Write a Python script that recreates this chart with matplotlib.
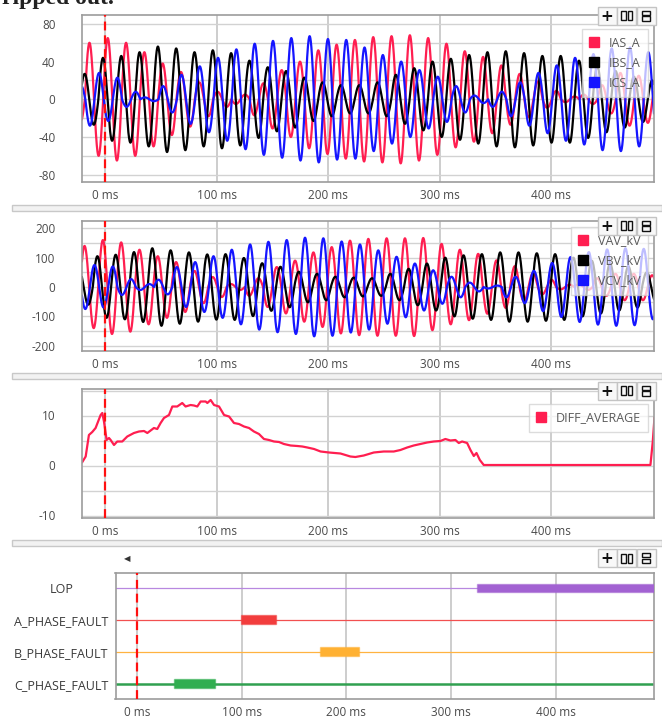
import numpy as np
import matplotlib
matplotlib.use("Agg")
import matplotlib.pyplot as plt
from matplotlib.lines import Line2D
from matplotlib.patches import Rectangle

plt.rcParams['font.family'] = ['Open Sans', 'DejaVu Sans']

W, H = 662, 720
T = 16.42  # ms per power cycle

# Waveforms: one signed peak amplitude per cycle.
# *_first is the time (ms) of the first listed peak.
ias_first = -30.74
ias_amp = [25, 60, 65, 60, 50, 38, 29, 18, 8, -5, -17, -31, -40, -52, -58, -63,
           -66, -67, -68, -65, -59, -51, -45, -36, -27, -19, -9, -3, 5, 15, 28, 25, 15]
ibs_first = -35.04
ibs_amp = [5, 27, 44, 46, 50, 56, 54, 50, 52, 49, 41, 34, 30, 23, 18, 15, 15,
           18, 26, 33, 40, 43, 47, 50, 51, 49, 46, 46, 41, 35, 30, 24, 20]
ics_first = -30.32
ics_amp = [-15, -28, -23, -8, 2, 14, 26, 35, 44, 53, 59, 62, 65, 67, 64, 63, 55,
           47, 40, 31, 24, 14, 4, -8, -18, -28, -36, -44, -48, -54, -55, -50, -40]

vav_first = -18.72
vav_amp = [140, 160, 152, 127, 105, 85, 55, 34, 10, -30, -68, -90, -118, -136, -158, -164,
           -166, -166, -167, -147, -127, -113, -91, -71, -48, -25, -8, 10, 30, 45, 45, 40]
vbv_first = -23.62
vbv_amp = [60, 105, 110, 119, 132, 125, 118, 111, 112, 99, 81, 69, 52, 45, 35, 32,
           30, 45, 62, 80, 100, 108, 112, 118, 118, 115, 112, 100, 90, 80, 70, 50]
vcv_first = -18.02
vcv_amp = [-75, -70, -27, -10, 25, 68, 85, 105, 127, 145, 154, 160, 168, 166, 155, 145,
           125, 103, 80, 57, 35, 15, -5, -35, -55, -82, -102, -119, -128, -132, -130, -110]

diff_t = [-20.7, -17.7, -14.8, -11.8, -8.8, -4.3, -2.8, -1.3, 1.1, 3.2,
          4.7, 7.7, 10.6, 15.1, 19.6, 25.6, 30.1, 34.6, 37.6, 43.5,
          46.5, 49.5, 52.5, 57.0, 60.0, 64.4, 68.9, 71.9, 76.4, 79.4,
          82.4, 85.4, 89.9, 91.4, 94.4, 97.4, 101.9, 106.4, 110.9, 115.3,
          119.8, 124.3, 128.8, 133.2, 137.7, 142.2, 146.7, 151.2, 155.7, 160.1,
          166.1, 172.1, 176.6, 181.1, 187.1, 193.0, 200.5, 210.8, 219.7, 224.2,
          231.7, 240.7, 249.6, 258.6, 264.6, 270.6, 276.5, 282.5, 288.5, 294.5,
          300.4, 304.9, 309.4, 313.9, 316.9, 319.9, 324.4, 327.4, 330.4, 332.8,
          335.8, 339.3, 488.8, 490.9, 492.4]
diff_v = [0.7, 1.8, 6.1, 6.7, 7.5, 10.1, 10.5, 8.8, 5.1, 5.5,
          5.1, 4.1, 4.8, 4.8, 5.8, 6.5, 6.8, 6.9, 6.5, 7.5,
          7.3, 8.5, 9.5, 10.1, 11.8, 11.8, 12.5, 11.8, 12.1, 12.0,
          11.8, 12.8, 12.8, 12.5, 13.1, 12.1, 11.8, 10.1, 9.8, 8.5,
          8.3, 7.8, 7.5, 6.8, 6.3, 5.3, 5.1, 4.8, 4.7, 4.3,
          4.0, 3.9, 3.8, 3.6, 3.3, 2.8, 2.6, 2.4, 1.8, 1.7,
          2.0, 2.6, 2.8, 2.8, 3.1, 3.6, 4.0, 4.3, 4.6, 4.8,
          4.9, 5.3, 5.0, 5.1, 4.5, 4.8, 4.5, 3.1, 1.9, 2.5,
          1.1, 0.1, 0.1, 4.8, 9.5]

event_names = ['LOP', 'A_PHASE_FAULT', 'B_PHASE_FAULT', 'C_PHASE_FAULT']
event_start = [324.5, 99.0, 175.0, 35.5]
event_end = [494.0, 132.7, 211.7, 74.6]
event_colors = ['#a262d2', '#f23d3d', '#ffb133', '#30ae50']
event_lines = ['#b888e0', '#f25050', '#ffb340', '#30a050']

xticks = [0, 100, 200, 300, 400]
RED, BLACK, BLUE = '#ff1e50', '#000000', '#1515ff'


def wave(t, first, amps):
    # each cycle runs zero-crossing to zero-crossing: peak +a then trough -a
    ph = (t - first) / T
    k = np.clip(np.floor(ph + 0.25).astype(int), 0, len(amps) - 1)
    return np.asarray(amps, float)[k] * np.cos(2 * np.pi * ph)


def fbox(l, t, r, b):
    return [l / W, 1 - b / H, (r - l) / W, (b - t) / H]


def style(ax, xlim):
    ax.set_xlim(*xlim)
    ax.set_xticks(xticks, labels=[f'{v} ms' for v in xticks])
    for s in ax.spines.values():
        s.set_color('#9c9c9c')
        s.set_linewidth(1.2)
    ax.tick_params(length=0, labelsize=8.5, labelcolor='#4a4a4a')
    ax.tick_params(axis='x', pad=5)
    ax.tick_params(axis='y', pad=19)
    ax.grid(axis='x', color='#cdcdcd', lw=1.4)
    ax.set_axisbelow(True)
    ax.axvline(0, color='#ff1010', lw=1.6, dashes=(4, 2.2), zorder=4)


def yaxis(ax, ylim, major, minor):
    ax.set_ylim(*ylim)
    ax.set_yticks(major, labels=[str(v) for v in major])
    ax.set_yticks(minor, minor=True)
    ax.tick_params(which='minor', length=0)
    ax.grid(axis='y', which='both', color='#d2d2d2', lw=1)


def legend(ax, colors, labels, anchor):
    hs = [Line2D([], [], marker='s', ls='none', color=c, markersize=6.5) for c in colors]
    leg = ax.legend(hs, labels, loc='upper right', bbox_to_anchor=anchor, frameon=True,
                    fancybox=False, framealpha=0.72, edgecolor='#cfcfcf', fontsize=9,
                    handlelength=0.7, handletextpad=0.8, borderpad=0.6,
                    labelspacing=0.55, borderaxespad=0)
    leg.get_frame().set_linewidth(1)
    for txt in leg.get_texts():
        txt.set_color('#5a5a5a')


def toolbar(fig, x0, y0):
    for i in range(3):
        x = x0 + i * 19.5
        fig.add_artist(Rectangle((x / W, 1 - (y0 + 18) / H), 19 / W, 18 / H,
                                 transform=fig.transFigure, fc='#f8f8f8', ec='#c4c4c4', lw=1))
    fig.text((x0 + 9.5) / W, 1 - (y0 + 9.5) / H, '+', ha='center', va='center',
             fontsize=11, fontweight='bold', color='#111111', family='DejaVu Sans')
    for dx in (-3.2, 3.2):
        cx = x0 + 19.5 + 9.5 + dx
        fig.add_artist(Rectangle(((cx - 2.4) / W, 1 - (y0 + 13.5) / H), 4.8 / W, 9 / H,
                                 transform=fig.transFigure, fc='none', ec='#111111', lw=1))
    for dy in (-2.8, 2.8):
        cy = y0 + 9 + dy
        fig.add_artist(Rectangle(((x0 + 39 + 5.5) / W, 1 - (cy + 2.2) / H), 8 / W, 4.4 / H,
                                 transform=fig.transFigure, fc='none', ec='#111111', lw=1))


t = np.arange(-25, 497, 0.05)
fig = plt.figure(figsize=(W / 100, H / 100), dpi=100)

fig.text(2 / W, 1 - 4 / H, 'ripped out.', family='Liberation Serif', fontsize=17,
         fontweight='bold', va='baseline', color='#222222')

for top in (205, 373, 540):
    fig.add_artist(Rectangle((12 / W, 1 - (top + 6) / H), 650 / W, 6 / H,
                             transform=fig.transFigure, fc='#f2f2f2', ec='#c8c8c8', lw=1))

# currents
ax1 = fig.add_axes(fbox(82, 15, 654, 182))
style(ax1, (-21, 492))
yaxis(ax1, (-87.8, 89.5), [-80, -40, 0, 40, 80], [-60, -20, 20, 60])
ax1.plot(t, wave(t, ias_first, ias_amp), color=RED, lw=1.6)
ax1.plot(t, wave(t, ibs_first, ibs_amp), color=BLACK, lw=1.6)
ax1.plot(t, wave(t, ics_first, ics_amp), color=BLUE, lw=1.6)
legend(ax1, [RED, BLACK, BLUE], ['IAS_A', 'IBS_A', 'ICS_A'], (0.9895, 0.916))

# voltages
ax2 = fig.add_axes(fbox(82, 221, 654, 351))
style(ax2, (-21, 492))
yaxis(ax2, (-218, 225), [-200, -100, 0, 100, 200], [-150, -50, 50, 150])
ax2.plot(t, wave(t, vav_first, vav_amp), color=RED, lw=1.6)
ax2.plot(t, wave(t, vbv_first, vbv_amp), color=BLACK, lw=1.6)
ax2.plot(t, wave(t, vcv_first, vcv_amp), color=BLUE, lw=1.6)
legend(ax2, [RED, BLACK, BLUE], ['VAV_kV', 'VBV_kV', 'VCV_kV'], (0.9895, 0.954))

# differential average
ax3 = fig.add_axes(fbox(82, 389, 654, 518))
style(ax3, (-21, 492))
yaxis(ax3, (-10.5, 15.3), [-10, 0, 10], [-5, 5, 15])
ax3.plot(diff_t, diff_v, color=RED, lw=1.6)
legend(ax3, [RED], ['DIFF_AVERAGE'], (0.9895, 0.884))

# digital events
ax4 = fig.add_axes(fbox(115.5, 573, 654, 699))
style(ax4, (-20.5, 494))
rows = np.arange(len(event_names))[::-1]
ax4.set_ylim(-0.48, 3.47)
ax4.set_yticks(rows, labels=event_names)
ax4.tick_params(axis='y', pad=39, labelsize=9, labelcolor='#3a3a3a')
for lab in ax4.get_yticklabels():
    lab.set_horizontalalignment('center')
for y, c, lc, s, e in zip(rows, event_colors, event_lines, event_start, event_end):
    ax4.axhline(y, color=lc, lw=1.8 if y == 0 else 0.9, zorder=2)
    ax4.barh(y, e - s, left=s, height=0.28, color=c, edgecolor=c + '80', lw=1, zorder=3)

fig.text(127 / W, 1 - 559 / H, '\u25c0', ha='center', va='center', fontsize=6,
         color='#333333', family='DejaVu Sans')

for y0 in (6.7, 216.7, 381.7, 549):
    toolbar(fig, 597.7, y0)

fig.savefig('out.png', dpi=100)
